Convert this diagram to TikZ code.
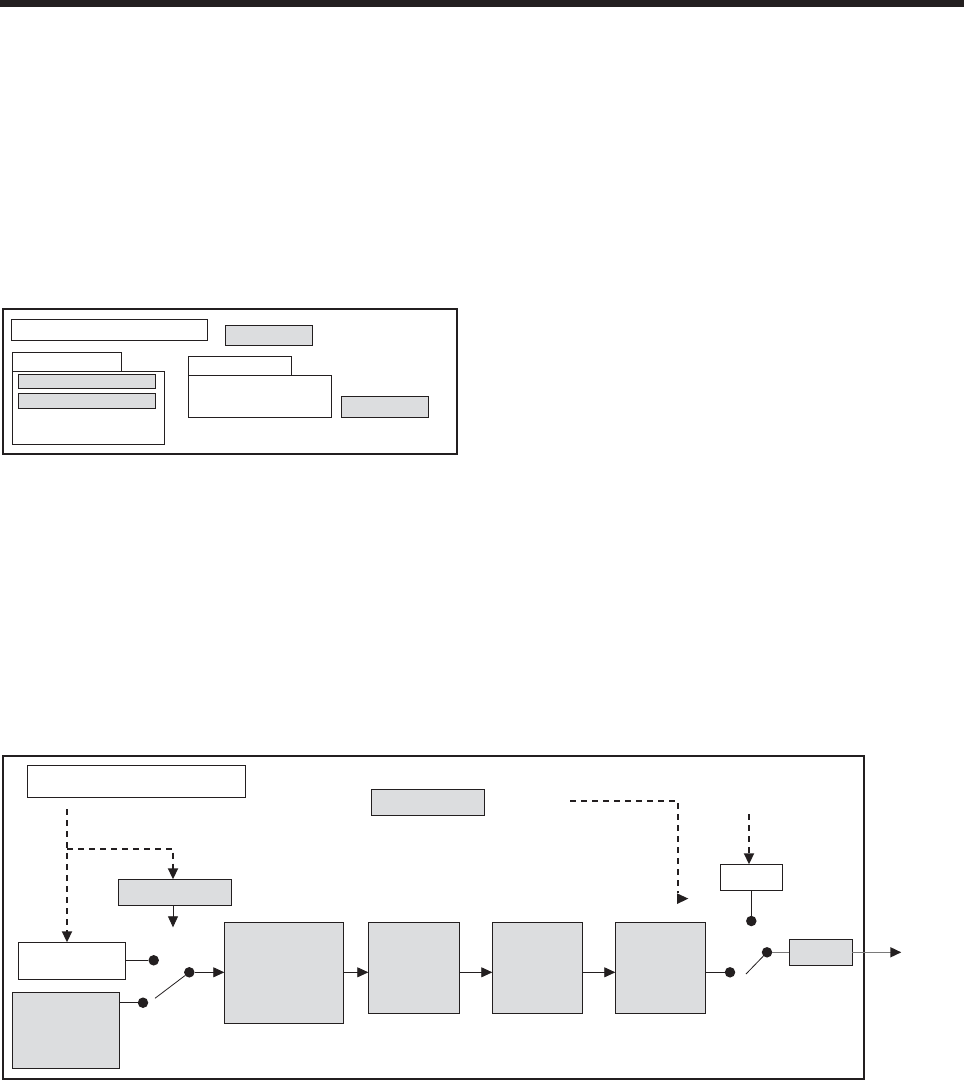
\documentclass[tikz,border=0pt]{standalone}
\usetikzlibrary{arrows.meta,calc}
\definecolor{ink}{HTML}{231F20}
\definecolor{gfill}{HTML}{DCDDDF}
\definecolor{gline}{HTML}{7A7A7A}
\newcommand\bx[6]{\node[#2,anchor=north west,inner sep=0pt,outer sep=0pt,minimum width={(#5-#3)*1pt},minimum height={(#6-#4)*1pt}] (#1) at (#3,#4) {};}
\begin{document}
\begin{tikzpicture}[x=1pt,y=-1pt,
  frame/.style={draw=ink,line width=2.2pt},
  wbox/.style={draw=ink,fill=white,line width=0.9pt},
  gbox/.style={draw=ink,fill=gfill,line width=0.9pt},
  conn/.style={draw=ink,line width=0.8pt},
  dconn/.style={draw=ink,line width=1.9pt,dash pattern=on 6pt off 5pt},
  tip/.style={-{Triangle[length=11pt,width=10pt,color=ink]}},
  dotnode/.style={circle,fill=ink,inner sep=0pt,minimum size=10.5pt}]
\useasboundingbox (0,0) rectangle (964,1081);
% top bar
\fill[ink] (0,0) rectangle (964,7.5);
% ---------- upper panel ----------
\draw[frame] (2.7,309) rectangle (456.7,454);
\bx{A}{wbox}{11.7}{319.3}{207.3}{340.3}
\bx{B}{gbox}{225.7}{325.3}{312.3}{345}
\bx{tabA}{wbox}{12.3}{352.3}{121.7}{371}
\bx{panA}{wbox}{12.3}{371}{164.3}{444.3}
\bx{barA}{gbox}{18.3}{374.3}{155.3}{388.3}
\bx{barB}{gbox}{18.3}{393.3}{155.3}{408.3}
\bx{tabB}{wbox}{188.7}{356.3}{291.7}{375.3}
\bx{panB}{wbox}{188.7}{375.3}{331.3}{417.3}
\bx{C}{gbox}{341.3}{396.3}{428.3}{417.3}
% ---------- lower panel ----------
\draw[frame] (2.7,755.7) rectangle (863.7,1079.3);
\bx{D}{wbox}{27.3}{765.3}{245.7}{797.3}
\bx{E}{gbox}{371.3}{789.3}{484.3}{815.3}
\bx{G}{gbox}{118.3}{879.3}{231.7}{905.3}
\bx{F}{wbox}{18.3}{942.3}{125.7}{979.3}
\bx{H}{gbox}{12.3}{992.3}{119.7}{1068.3}
\bx{I}{gbox}{224.3}{922.3}{343.7}{1023.3}
\bx{J}{gbox}{368.3}{922.3}{459.3}{1013.3}
\bx{K}{gbox}{492.3}{922.3}{582.7}{1013.3}
\bx{L}{gbox}{615.3}{922.3}{705.3}{1013.3}
\bx{M}{wbox}{720.3}{864.3}{782.3}{890.3}
\bx{N}{gbox}{789.3}{939.3}{852.3}{965.3}
% coordinates
\coordinate (row) at (0,972.3);
\coordinate (dA) at (67,809.3);
\coordinate (brA) at (67,848.7);
\coordinate (gx) at (173,0);
\coordinate (gEnd) at (173,927.3);
\coordinate (dB) at (570,801);
\coordinate (dBend) at (678,893);
\coordinate (dC) at (749,814);
\coordinate (armA) at (155,998.3);
\coordinate (armB) at (746,974);
\coordinate (outEnd) at (901.3,952.3);
% dots
\node[dotnode] (p1) at (153.7,960.3) {};
\node[dotnode] (p2) at (143,1002.7) {};
\node[dotnode] (p3) at (189.3,972.3) {};
\node[dotnode] (p4) at (730,972.3) {};
\node[dotnode] (p5) at (751.3,921) {};
\node[dotnode] (p6) at (767,952.3) {};
% dashed connectors
\draw[dconn,tip] (dA) -- (dA |- F.north);
\draw[dconn,tip] (brA) -| (gx |- G.north);
\draw[dconn] (dB) -| (dBend);
\fill[ink] (677,893.3) -- (688.3,898.6) -- (677,904) -- cycle;
\draw[dconn,tip] (dC) -- (dC |- M.north);
% solid connectors
\draw[conn,tip] (gx |- G.south) -- (gEnd);
\draw[conn] (F.east |- p1) -- (p1);
\draw[conn] (H.east |- p2) -- (p2);
\draw[conn] (armA) -- (p3);
\draw[conn,tip] (p3) -- (I.west |- p3);
\draw[conn,tip] (I.east |- row) -- (J.west |- row);
\draw[conn,tip] (J.east |- row) -- (K.west |- row);
\draw[conn,tip] (K.east |- row) -- (L.west |- row);
\draw[conn] (L.east |- row) -- (p4);
\draw[conn] (armB) -- (p6);
\draw[conn] (p5 |- M.south) -- (p5);
\draw[draw=gline,line width=1.6pt] (p6) -- (N.west);
\draw[draw=gline,line width=1.6pt,tip] (N.east) -- (outEnd);
\end{tikzpicture}
\end{document}
